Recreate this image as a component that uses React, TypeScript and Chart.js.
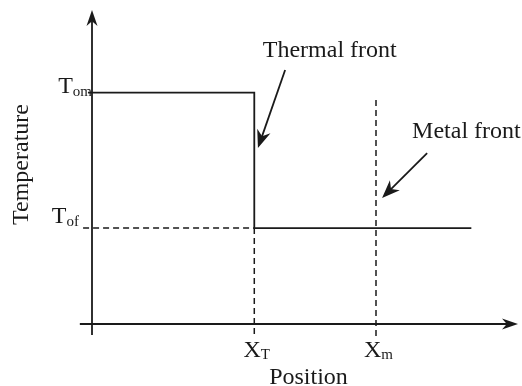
import React, { useEffect, useRef } from "react";
import { Chart, registerables } from "chart.js";

Chart.register(...registerables);

// Axis ranges (arbitrary units for position and temperature)
const xRange = [0, 10.5];
const yRange = [0, 13.1];

// Front positions on the x axis and their tick labels
const frontPositions = [4, 7];
const frontLabels = [
  { main: "X", sub: "T" },
  { main: "X", sub: "m" },
];

// Temperature levels on the y axis and their tick labels
const tempLevels = [9.65, 4];
const tempLabels = [
  { main: "T", sub: "om" },
  { main: "T", sub: "of" },
];

// Temperature profile: hot zone behind the thermal front, then T_of ahead of it
const profileX = [-0.1, 4, 4, 9.35];
const profileY = [9.65, 9.65, 4, 4];

// Dashed guide from the y axis to the thermal front at T_of
const tofGuideX = [-0.22, 4];
const tofGuideY = [4, 4];

// Dashed drop line at the thermal front
const thermalDropX = [4, 4];
const thermalDropY = [4, -0.54];

// Dashed line marking the metal front
const metalLineX = [7, 7];
const metalLineY = [9.35, -0.54];

// Annotation callouts: text anchor, arrow tail, arrow tip
const calloutText = ["Thermal front", "Metal front"];
const calloutTextX = [4.21, 7.89];
const calloutTextY = [11.14, 7.76];
const calloutTailX = [4.76, 8.26];
const calloutTailY = [10.6, 7.13];
const calloutTipX = [4.09, 7.15];
const calloutTipY = [7.34, 5.26];

// Axis extents (arrow tips at the far ends)
const xAxisFrom = -0.3;
const yAxisFrom = -0.46;

const INK = "#1a1a1a";
const FONT = "'Liberation Serif', 'Times New Roman', serif";
const MAIN_PX = 24;
const SUB_PX = 15;

const pts = (xs: number[], ys: number[]) => xs.map((x, i) => ({ x, y: ys[i] }));

function arrowHead(ctx: CanvasRenderingContext2D, x1: number, y1: number, x2: number, y2: number, len: number, half: number) {
  const a = Math.atan2(y2 - y1, x2 - x1);
  const cos = Math.cos(a);
  const sin = Math.sin(a);
  const bx = x2 - len * cos;
  const by = y2 - len * sin;
  const nx = x2 - len * 0.7 * cos;
  const ny = y2 - len * 0.7 * sin;
  ctx.beginPath();
  ctx.moveTo(x2, y2);
  ctx.lineTo(bx - half * sin, by + half * cos);
  ctx.lineTo(nx, ny);
  ctx.lineTo(bx + half * sin, by - half * cos);
  ctx.closePath();
  ctx.fill();
}

function arrow(ctx: CanvasRenderingContext2D, x1: number, y1: number, x2: number, y2: number, len: number, half: number, width: number) {
  const a = Math.atan2(y2 - y1, x2 - x1);
  ctx.lineWidth = width;
  ctx.beginPath();
  ctx.moveTo(x1, y1);
  ctx.lineTo(x2 - len * 0.6 * Math.cos(a), y2 - len * 0.6 * Math.sin(a));
  ctx.stroke();
  arrowHead(ctx, x1, y1, x2, y2, len, half);
}

function subLabel(
  ctx: CanvasRenderingContext2D,
  main: string,
  sub: string,
  x: number,
  baseline: number,
  align: "right" | "center",
  subDrop: number
) {
  ctx.font = `${MAIN_PX}px ${FONT}`;
  const wMain = ctx.measureText(main).width;
  ctx.font = `${SUB_PX}px ${FONT}`;
  const wSub = ctx.measureText(sub).width;
  const total = wMain + wSub;
  const left = align === "right" ? x - total : x - total / 2;
  ctx.textAlign = "left";
  ctx.textBaseline = "alphabetic";
  ctx.font = `${MAIN_PX}px ${FONT}`;
  ctx.fillText(main, left, baseline);
  ctx.font = `${SUB_PX}px ${FONT}`;
  ctx.fillText(sub, left + wMain, baseline + subDrop);
}

const schematicPlugin = {
  id: "schematic",
  beforeDatasetsDraw(chart: any) {
    const ctx: CanvasRenderingContext2D = chart.ctx;
    const xs = chart.scales.x;
    const ys = chart.scales.y;
    const x0 = xs.getPixelForValue(0);
    const y0 = ys.getPixelForValue(0);
    ctx.save();
    ctx.strokeStyle = INK;
    ctx.fillStyle = INK;
    ctx.lineCap = "butt";
    // x axis with arrow
    arrow(ctx, xs.getPixelForValue(xAxisFrom), y0, xs.getPixelForValue(xRange[1]), y0, 16, 5.5, 1.8);
    // y axis with arrow
    arrow(ctx, x0, ys.getPixelForValue(yAxisFrom), x0, ys.getPixelForValue(yRange[1]), 16, 5.5, 1.8);
    ctx.restore();
  },
  afterDatasetsDraw(chart: any) {
    const ctx: CanvasRenderingContext2D = chart.ctx;
    const xs = chart.scales.x;
    const ys = chart.scales.y;
    const x0 = xs.getPixelForValue(0);
    const y0 = ys.getPixelForValue(0);
    ctx.save();
    ctx.fillStyle = INK;
    ctx.strokeStyle = INK;

    // y tick labels (T_om, T_of)
    const yLabelGap = [0, 13];
    const yLabelLift = [0, 5];
    tempLevels.forEach((v, i) => {
      const py = ys.getPixelForValue(v);
      subLabel(ctx, tempLabels[i].main, tempLabels[i].sub, x0 - yLabelGap[i], py - yLabelLift[i], "right", 3);
    });

    // x tick labels (X_T, X_m)
    frontPositions.forEach((v, i) => {
      const px = xs.getPixelForValue(v);
      subLabel(ctx, frontLabels[i].main, frontLabels[i].sub, px + 2.5, y0 + 33, "center", 2);
    });

    // axis titles
    ctx.font = `${MAIN_PX}px ${FONT}`;
    ctx.textAlign = "center";
    ctx.textBaseline = "alphabetic";
    ctx.fillText("Position", 308.5, 384);
    ctx.save();
    ctx.translate(28, 164.5);
    ctx.rotate(-Math.PI / 2);
    ctx.fillText("Temperature", 0, 0);
    ctx.restore();

    // callouts
    calloutText.forEach((t, i) => {
      ctx.font = `${MAIN_PX}px ${FONT}`;
      ctx.textAlign = "left";
      ctx.fillText(t, xs.getPixelForValue(calloutTextX[i]), ys.getPixelForValue(calloutTextY[i]));
      arrow(
        ctx,
        xs.getPixelForValue(calloutTailX[i]),
        ys.getPixelForValue(calloutTailY[i]),
        xs.getPixelForValue(calloutTipX[i]),
        ys.getPixelForValue(calloutTipY[i]),
        18,
        7,
        1.8
      );
    });
    ctx.restore();
  },
};

export default function App() {
  const canvasRef = useRef<HTMLCanvasElement | null>(null);

  useEffect(() => {
    if (!canvasRef.current) return;
    const solid = { borderColor: INK, borderWidth: 1.8, pointRadius: 0, showLine: true, fill: false, tension: 0, clip: false as any };
    const dashed = { ...solid, borderWidth: 1.5, borderDash: [6, 4] };
    const chart = new Chart(canvasRef.current, {
      type: "scatter",
      data: {
        datasets: [
          { label: "Temperature profile", data: pts(profileX, profileY), ...solid },
          { label: "T_of guide", data: pts(tofGuideX, tofGuideY), ...dashed },
          { label: "Thermal front", data: pts(thermalDropX, thermalDropY), ...dashed },
          { label: "Metal front", data: pts(metalLineX, metalLineY), ...dashed },
        ],
      },
      options: {
        animation: false,
        responsive: false,
        devicePixelRatio: 1,
        layout: { padding: { left: 92, right: 4, top: 10, bottom: 62 } },
        plugins: { legend: { display: false }, tooltip: { enabled: false } },
        events: [],
        scales: {
          x: { type: "linear", display: false, min: xRange[0], max: xRange[1] },
          y: { type: "linear", display: false, min: yRange[0], max: yRange[1] },
        },
      },
      plugins: [schematicPlugin],
    });
    return () => chart.destroy();
  }, []);

  return (
    <div style={{ position: "fixed", left: 0, top: 0, width: 522, height: 386, background: "#fff" }}>
      <canvas ref={canvasRef} width={522} height={386} />
    </div>
  );
}
